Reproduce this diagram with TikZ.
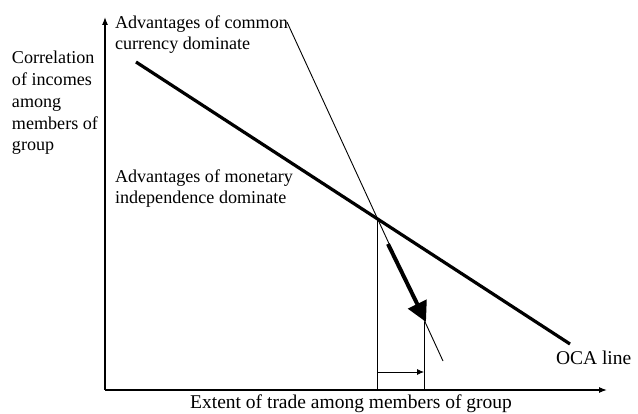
\documentclass[tikz,border=0pt]{standalone}
\usepackage{fontspec}
\setmainfont{Liberation Serif}
\usetikzlibrary{arrows.meta}
\begin{document}
\begin{tikzpicture}[x=1pt,y=-1pt,
  lbl/.style={inner sep=0pt, outer sep=0pt, align=left, font=\fontsize{18.1}{21.8}\selectfont},
  biglbl/.style={inner sep=0pt, outer sep=0pt, font=\fontsize{19.5}{21.8}\selectfont},
  axis/.style={line width=1.2pt, -{Latex[length=8pt,width=6pt]}},
  thinline/.style={line width=0.9pt},
  ocaline/.style={line width=3.2pt},
  bigarrow/.style={line width=4pt, -{Triangle[length=20pt,width=20pt]}},
  smallarrow/.style={line width=0.8pt, -{Latex[length=7pt,width=6pt]}}]
\useasboundingbox (0,0) rectangle (638,414);
% coordinates
\coordinate (O) at (105,390);
\coordinate (ytop) at (105,17);
\coordinate (xend) at (607,390);
\coordinate (ocaA) at (136,62);
\coordinate (ocaB) at (570,344);
\coordinate (tA) at (287,22);
\coordinate (tB) at (443,361);
\coordinate (I) at (377,217);
\coordinate (Ib) at (377,390);
\coordinate (J) at (424,322);
\coordinate (Jb) at (424,390);
\coordinate (aS) at (388,244);
\coordinate (aE) at (426,322);
\coordinate (sA) at (377,372);
\coordinate (sB) at (424,372);
% axes
\draw[axis] (O) -- (ytop);
\draw[axis] (O) -- (xend);
% lines
\draw[ocaline] (ocaA) -- (ocaB);
\draw[thinline] (tA) -- (tB);
\draw[line width=0.8pt] (I) -- (Ib);
\draw[line width=0.8pt] (J) -- (Jb);
\draw[bigarrow] (aS) -- (aE);
\draw[smallarrow] (sA) -- (sB);
% labels (base anchor = baseline of last line)
\node[lbl, anchor=base west] (ylab) at (12,151) {Correlation\\of incomes\\among\\members of\\group};
\node[lbl, anchor=base west] (common) at (115,50) {Advantages of common\\currency dominate};
\node[lbl, anchor=base west] (monet) at (115,204) {Advantages of monetary\\independence dominate};
\node[biglbl, anchor=base west] (oca) at (556,365) {OCA line};
\node[biglbl, anchor=base] (xlab) at (351,408) {Extent of trade among members of group};
\end{tikzpicture}
\end{document}
